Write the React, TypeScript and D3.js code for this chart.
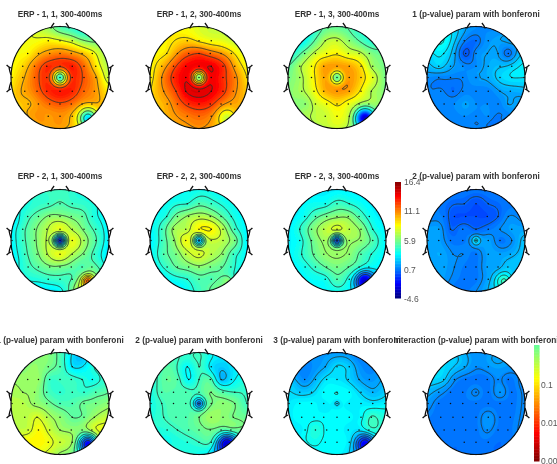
import React, { useMemo } from "react";
import * as d3 from "d3";

// electrode positions, unit-circle coordinates (last 12 are undrawn rim samples)
const electrodeX = [-.24,0,.25, -.66,-.44,-.21,0,.23,.45,.66, -.76,-.52,-.27,0,.25,.49,.73,
  -.98,-.76,-.52,-.27,0,.25,.49,.73,.98, -.72,-.47,-.27,0,.25,.49,.7, -.65,-.44,-.21,0,.23,.45,.65,
  -.24,0,.25, 0,0, -.7,.7,-.42,.42,-.92,.92,-.92,.92,-.7,.7,-.42,.42];
const electrodeY = [-.72,-.72,-.72, -.47,-.47,-.47,-.47,-.47,-.47,-.47, -.22,-.22,-.22,-.22,-.22,-.22,-.22,
  0,0,0,0,0,0,0,0,0, .27,.27,.27,.27,.27,.27,.27, .52,.52,.52,.52,.52,.52,.52,
  .76,.76,.76, -1,1, -.72,-.72,-.92,-.92,-.38,-.38,.38,.38,.72,.72,.92,.92];
const drawnElectrodes = 45;

// values on the colour scale (0 = bottom of the jet bar, 100 = top)
const erp11 = [64,62,58, 64,70,74,76,74,70,64, 67,76,84,87,86,78,66, 64,70,78,85,88,86,80,72,58, 72,78,84,88,85,78,74, 70,74,78,80,78,75,74, 73,74,72, 46,72, 62,50,58,42,63,56,68,68,70,72,72,70];
const erp12 = [68,65,62, 66,74,80,82,78,74,68, 70,80,88,90,90,84,72, 64,74,84,90,90,90,84,76,66, 74,82,90,92,90,84,76, 72,78,84,86,84,78,74, 76,78,76, 60,74, 64,58,64,58,64,62,68,70,70,74,72,72];
const erp13 = [56,58,52, 50,58,62,64,60,58,52, 55,62,72,74,72,66,54, 50,54,62,72,76,74,68,60,50, 55,62,70,74,72,64,56, 52,58,62,66,62,60,58, 58,62,60, 48,58, 38,42,44,44,44,50,52,52,54,56,56,54];
const pParam1 = [26,24,28, 36,30,21,27,29,29,24, 34,30,27,27,30,32,34, 27,26,26,26,29,30,34,36,36, 26,24,26,26,26,29,30, 27,27,29,27,27,26,29, 27,26,27, 27,26, 40,30,34,27,34,34,26,29,26,27,26,24];
const erp21 = [44,46,44, 44,48,52,52,50,48,42, 44,50,56,62,56,50,44, 38,44,50,57,58,62,54,46,37, 44,50,56,62,56,50,44, 44,47,50,50,48,46,48, 43,44,46, 45,38, 41,41,43,41,38,38,38,38,41,52,37,58];
const erp22 = [42,46,44, 42,50,54,56,54,48,42, 44,54,56,64,64,56,44, 37,44,52,62,58,58,56,50,37, 46,50,56,60,56,52,44, 44,48,50,52,50,48,44, 42,46,46, 40,44, 39,39,39,39,39,38,39,39,38,42,37,50];
const erp23 = [40,44,42, 40,46,50,52,52,46,40, 42,50,56,60,56,52,42, 37,40,48,54,56,54,52,46,38, 42,48,52,54,52,46,42, 40,44,48,50,48,46,42, 40,46,42, 37,40, 38,37,37,37,37,37,38,38,38,38,38,38];
const pParam2 = [23,21,23, 25,21,21,21,21,23,27, 29,23,25,23,25,27,29, 30,29,25,25,27,29,25,27,32, 30,27,27,25,29,29,30, 29,27,25,25,29,29,32, 25,25,29, 25,27, 25,25,25,25,27,27,29,32,29,30,25,33];
const pMain1 = [50,46,36, 53,53,44,44,44,42,40, 54,53,46,43,44,43,46, 56,56,53,50,46,46,49,50,52, 56,60,56,52,48,49,54, 58,63,58,54,53,55,62, 62,58,57, 46,53, 52,42,52,32,54,44,56,60,63,60,62,50];
const pMain2 = [38,44,36, 48,46,38,44,46,32,36, 46,46,46,46,50,46,44, 40,44,46,46,48,50,52,50,44, 44,46,46,50,54,52,50, 42,44,46,48,50,50,52, 42,44,46, 44,40, 46,36,44,36,42,42,42,50,40,40,42,32];
const pMain3 = [30,35,33, 27,31,36,36,34,30,28, 33,34,38,39,38,34,31, 36,38,38,37,38,37,37,36,37, 38,38,38,38,38,38,44, 38,42,38,38,37,38,44, 38,38,38, 28,38, 26,26,28,26,33,31,37,42,38,38,38,33];
const pInter = [30,27,28, 33,27,25,25,25,27,25, 28,25,25,27,25,28,25, 28,25,25,25,25,25,25,25,27, 25,25,25,25,28,25,25, 25,25,25,25,27,25,25, 25,25,25, 27,25, 35,28,33,30,33,27,25,27,25,25,24,24];

const titles = [
  "ERP - 1, 1, 300-400ms", "ERP - 1, 2, 300-400ms", "ERP - 1, 3, 300-400ms", "1 (p-value) param with bonferoni",
  "ERP - 2, 1, 300-400ms", "ERP - 2, 2, 300-400ms", "ERP - 2, 3, 300-400ms", "2 (p-value) param with bonferoni",
  "1 (p-value) param with bonferoni", "2 (p-value) param with bonferoni", "3 (p-value) param with bonferoni", "Interaction (p-value) param with bonferoni",
];
const series = [erp11, erp12, erp13, pParam1, erp21, erp22, erp23, pParam2, pMain1, pMain2, pMain3, pInter];
// value and radius at the vertex electrode
const vertexValue = [42, 50, 47, 26, 14, 30, 18, 36, 44, 24, 33, 26];
const vertexRadius = [.15, .13, .13, .05, .12, .11, .11, .1, .03, .12, .07, .03];
// value and radius at the lower-right bad channel
const spotValue = [35, 58, 8, 27, 80, 52, 8, 44, 12, 8, 12, 25];
const spotRadius = [.2, .2, .2, .05, .12, .1, .2, .18, .2, .2, .2, .03];
const contourStep = [10, 8, 9, 3.5, 5.5, 5.5, 5.5, 4, 6, 6, 4.5, 3];
const contourStart = [41, 42, 38, 15, 18, 20, 20, 15, 12, 14, 12, 26.5];

const ticksErp = ["16.4", "11.1", "5.9", "0.7", "-4.6"];
const ticksP = ["0.1", "0.01", "0.00"];

const columns = [60, 199, 337, 476];
const rowCenters = [77.5, 240.5, 403.5];
const titleY = [17, 179, 343];
const RX = 49, RY = 51, N = 130;

const jet = (t: number) => {
  const c = (x: number) => Math.round(255 * Math.max(0, Math.min(1, x)));
  const r = 1.5 - Math.abs(4 * t - 3), g = 1.5 - Math.abs(4 * t - 2), b = 1.5 - Math.abs(4 * t - 1);
  return `rgb(${c(r)},${c(g)},${c(b)})`;
};
const colorScale = d3.scaleSequential(jet).domain([0, 100]);

const green = (a: number, b: number) => { const r = Math.hypot(a, b); return r < 1e-9 ? 0 : r * r * (Math.log(r) - 1); };

function solve(matrix: number[][], rhs: number[]) {
  const n = rhs.length;
  const a = matrix.map((r, i) => [...r, rhs[i]]);
  for (let i = 0; i < n; i++) {
    let p = i;
    for (let k = i + 1; k < n; k++) if (Math.abs(a[k][i]) > Math.abs(a[p][i])) p = k;
    [a[i], a[p]] = [a[p], a[i]];
    for (let k = i + 1; k < n; k++) {
      const f = a[k][i] / a[i][i];
      for (let j = i; j <= n; j++) a[k][j] -= f * a[i][j];
    }
  }
  const w = new Array(n).fill(0);
  for (let i = n - 1; i >= 0; i--) {
    let s = a[i][n];
    for (let j = i + 1; j < n; j++) s -= a[i][j] * w[j];
    w[i] = s / a[i][i];
  }
  return w;
}

function fieldFor(index: number) {
  const vals = series[index];
  const m = electrodeX.map((x, i) => electrodeX.map((x2, j) => green(x - x2, electrodeY[i] - electrodeY[j])));
  const w = solve(m, vals);
  const out = new Float64Array(N * N);
  for (let r = 0; r < N; r++) for (let c = 0; c < N; c++) {
    const x = -1.08 + 2.16 * (c + .5) / N, y = -1.08 + 2.16 * (r + .5) / N;
    let v = 0;
    for (let i = 0; i < w.length; i++) v += w[i] * green(x - electrodeX[i], y - electrodeY[i]);
    const wc = Math.exp(-(x * x + y * y) / (vertexRadius[index] ** 2));
    v = v * (1 - wc) + vertexValue[index] * wc;
    const d2 = (x - .57) ** 2 + (y - .8) ** 2;
    const ws = Math.exp(-d2 / (spotRadius[index] ** 2));
    v = v * (1 - ws) + spotValue[index] * ws;
    out[r * N + c] = v;
  }
  return out;
}

const fillLevels = d3.range(0, 100, 1.5);

function Topo({ index }: { index: number }) {
  const col = index % 4, row = Math.floor(index / 4);
  const cx = columns[col], cy = rowCenters[row];
  const sx = d3.scaleLinear().domain([-1, 1]).range([cx - RX, cx + RX]);
  const sy = d3.scaleLinear().domain([-1, 1]).range([cy - RY, cy + RY]);
  const { fills, lines } = useMemo(() => {
    const f = fieldFor(index);
    const toX = d3.scaleLinear().domain([0, N]).range([sx(-1.08), sx(1.08)]);
    const toY = d3.scaleLinear().domain([0, N]).range([sy(-1.08), sy(1.08)]);
    const path = d3.geoPath(d3.geoTransform({ point(x, y) { this.stream.point(toX(x), toY(y)); } }));
    const gen = d3.contours().size([N, N]);
    const levels = d3.range(contourStart[index], 100, contourStep[index]);
    return {
      fills: fillLevels.map((t) => ({ t, d: path(gen.contour(f as any, t)) || "" })),
      lines: levels.map((t) => path(gen.contour(f as any, t)) || ""),
    };
  }, [index]);
  const clipId = `head${index}`;
  const ear = (s: number) => {
    const X = (v: number) => sx(s * v);
    const a = cy - 11.5, b = cy + 13.5;
    return `M${X(1.0)},${a + 2} Q${X(1.05)},${a + 1} ${X(1.09)},${a - 1} M${X(1.04)},${a + 1.5} Q${X(1.03)},${a + 5} ${X(1.0)},${a + 9}` +
      ` M${X(1.0)},${b - 2} Q${X(1.05)},${b - 1} ${X(1.09)},${b + 1} M${X(1.04)},${b - 1.5} Q${X(1.03)},${b - 5} ${X(1.0)},${b - 9}`;
  };
  const nose = (s: number) => `M${sx(s * .19)},${sy(-.96)} Q${sx(s * .16)},${sy(-1.03)} ${sx(s * .12)},${sy(-1.07)}`;
  return (
    <g>
      <clipPath id={clipId}><ellipse cx={cx} cy={cy} rx={RX} ry={RY} /></clipPath>
      <g clipPath={`url(#${clipId})`}>
        <rect x={cx - RX} y={cy - RY} width={2 * RX} height={2 * RY} fill={colorScale(0)} />
        {fills.map((p) => <path key={p.t} d={p.d} fill={colorScale(p.t)} />)}
        {lines.map((d, i) => <path key={i} d={d} fill="none" stroke="#27352e" strokeOpacity={0.85} strokeWidth={1} />)}
      </g>
      {electrodeX.slice(0, drawnElectrodes).map((x, i) => (
        <circle key={i} cx={sx(x)} cy={sy(electrodeY[i])} r={0.75} fill="#111" />
      ))}
      <ellipse cx={cx} cy={cy} rx={RX} ry={RY} fill="none" stroke="#111" strokeWidth={1.2} />
      <path d={ear(-1)} fill="none" stroke="#111" strokeWidth={1.3} />
      <path d={ear(1)} fill="none" stroke="#111" strokeWidth={1.3} />
      <path d={nose(-1)} fill="none" stroke="#111" strokeWidth={1.3} />
      <path d={nose(1)} fill="none" stroke="#111" strokeWidth={1.3} />
      <text x={cx} y={titleY[row]} textAnchor="middle" fontFamily="Liberation Sans" fontWeight="bold" fontSize={8.25} fill="#333">
        {titles[index]}
      </text>
    </g>
  );
}

function ColorBar({ x, y0, y1, width, from, to }: { x: number; y0: number; y1: number; width: number; from: number; to: number }) {
  const steps = d3.range(0, 80);
  const sy = d3.scaleLinear().domain([0, 80]).range([y1, y0]);
  const sc = d3.scaleLinear().domain([0, 80]).range([from, to]);
  return (
    <g>
      {steps.map((i) => (
        <rect key={i} x={x} y={sy(i + 1)} width={width} height={sy(i) - sy(i + 1) + .5} fill={colorScale(sc(i))} />
      ))}
    </g>
  );
}

export default function App() {
  const erpY = d3.scalePoint<string>().domain(ticksErp).range([182, 299]);
  const pY = d3.scaleOrdinal<string, number>().domain(ticksP).range([385, 423, 461]);
  return (
    <svg width={557} height={464} style={{ position: "absolute", left: 0, top: 0, background: "#fff" }}>
      <defs><filter id="soft" x="0" y="0" width="100%" height="100%"><feGaussianBlur stdDeviation="0.4" /></filter></defs>
      <g filter="url(#soft)">
        <rect width={557} height={464} fill="#fff" />
        {series.map((_, i) => <Topo key={i} index={i} />)}
        <ColorBar x={395} y0={182} y1={298} width={6} from={0} to={100} />
        {ticksErp.map((t) => (
          <text key={t} x={404} y={erpY(t)! + 3} fontFamily="Liberation Sans" fontSize={8.5} fill="#555">{t}</text>
        ))}
        <ColorBar x={534} y0={345} y1={461} width={5.5} from={100} to={47} />
        {ticksP.map((t) => (
          <text key={t} x={541} y={pY(t) + 3} fontFamily="Liberation Sans" fontSize={8.5} fill="#555">{t}</text>
        ))}
      </g>
    </svg>
  );
}
